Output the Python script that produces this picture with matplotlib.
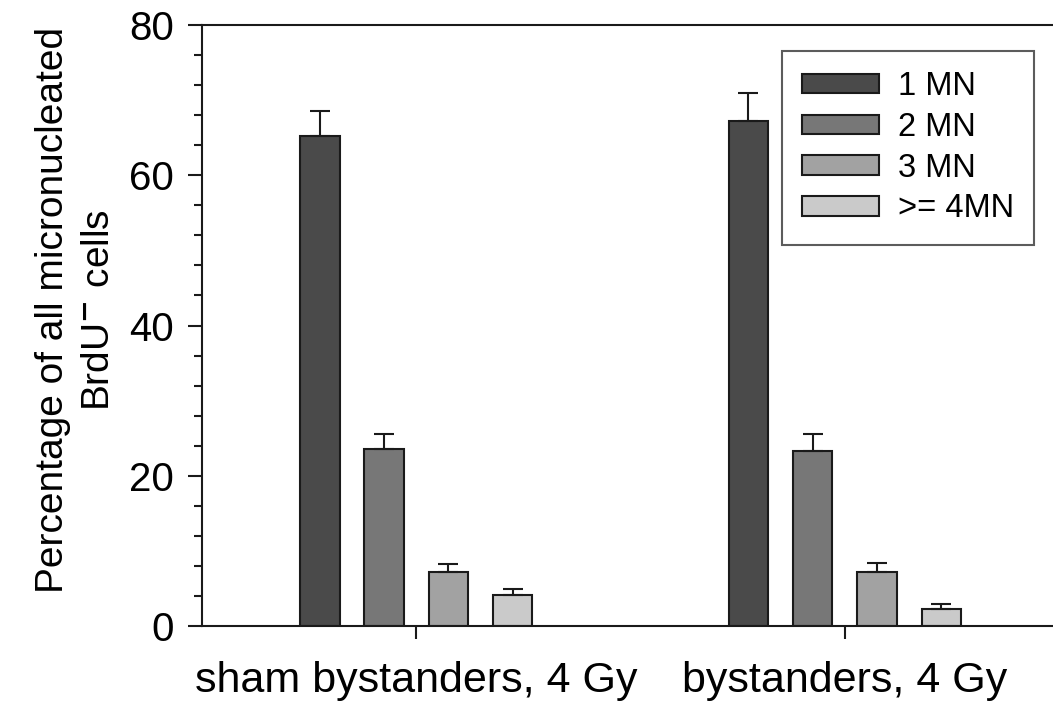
import numpy as np
from matplotlib import pyplot as plt
from matplotlib.ticker import MultipleLocator

plt.rcParams['font.family'] = ['Liberation Sans', 'DejaVu Sans']
plt.rcParams['mathtext.fontset'] = 'custom'
plt.rcParams['mathtext.rm'] = 'Liberation Sans'

groups = ['sham bystanders, 4 Gy', 'bystanders, 4 Gy']
series = ['1 MN', '2 MN', '3 MN', '>= 4MN']
values = {
    '1 MN': [65.2, 67.2],
    '2 MN': [23.6, 23.3],
    '3 MN': [7.2, 7.2],
    '>= 4MN': [4.1, 2.3],
}
errors = {
    '1 MN': [3.3, 3.7],
    '2 MN': [2.0, 2.3],
    '3 MN': [1.1, 1.2],
    '>= 4MN': [0.8, 0.6],
}
colors = ['#4a4a4a', '#777777', '#a2a2a2', '#cacaca']

fig = plt.figure(figsize=(10.53, 7.07), dpi=100)
ax = fig.add_axes([0.1918, 0.1146, 0.808, 0.85])

x = np.array([1, 2])
offsets = [-0.225, -0.075, 0.075, 0.225]
for i, s in enumerate(series):
    ax.bar(x + offsets[i], values[s], width=0.092, color=colors[i],
           edgecolor='#1a1a1a', linewidth=1.5, label=s, zorder=2)
    ax.errorbar(x + offsets[i], values[s],
                yerr=[np.zeros(len(x)), errors[s]], fmt='none',
                ecolor='#1a1a1a', elinewidth=1.5, capsize=7, capthick=1.5, zorder=3)

ax.set_xlim(0.5, 2.485)
ax.set_ylim(0, 80)
ax.set_xticks(x)
ax.set_xticklabels(groups, fontsize=31)
ax.yaxis.set_major_locator(MultipleLocator(20))
ax.yaxis.set_minor_locator(MultipleLocator(4))
ax.tick_params(axis='y', which='major', length=10, width=1.5, labelsize=29, pad=10, color='#1a1a1a')
ax.tick_params(axis='y', which='minor', length=6, width=1.5, color='#1a1a1a')
ax.tick_params(axis='x', length=9, width=1.5, pad=16, color='#1a1a1a')

ax.spines['right'].set_visible(False)
for sp in ['left', 'top', 'bottom']:
    ax.spines[sp].set_linewidth(1.5)
    ax.spines[sp].set_color('#1a1a1a')

ax.set_ylabel('Percentage of all micronucleated\nBrdU$^{\\mathbf{-}}$ cells', fontsize=28,
              linespacing=1.35)
ax.yaxis.set_label_coords(-0.1, 0.526)

leg = ax.legend(loc='upper right', bbox_to_anchor=(0.978, 0.957), borderaxespad=0,
                fontsize=23.5, fancybox=False, frameon=True, handlelength=2.36,
                handleheight=0.55, handletextpad=0.58, labelspacing=0.3,
                borderpad=0.62)
leg.get_frame().set_edgecolor('#333333')
leg.get_frame().set_linewidth(1.5)

plt.savefig('out.png', dpi=100)
